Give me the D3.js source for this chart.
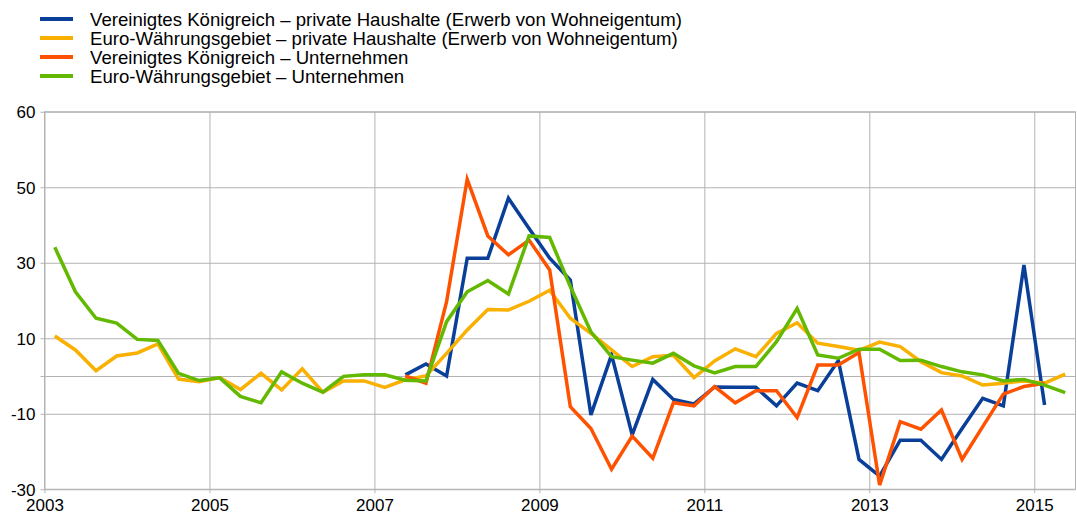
<!DOCTYPE html>
<html>
<head>
<meta charset="utf-8">
<script src="https://cdn.jsdelivr.net/npm/d3@7"></script>
<style>
  body { margin: 0; background: #fff; }
  svg { display: block; font-family: "Liberation Sans", Arial, sans-serif; }
</style>
</head>
<body>
<div id="chart"></div>
<script>
const width = 1077
const height = 518

// quarters 2003Q1 .. 2015Q2
const startYear = 2003
const nQuarters = 50

const seriesNames = [
    "Vereinigtes Königreich – private Haushalte (Erwerb von Wohneigentum)",
    "Euro-Währungsgebiet – private Haushalte (Erwerb von Wohneigentum)",
    "Vereinigtes Königreich – Unternehmen",
    "Euro-Währungsgebiet – Unternehmen"
]
const seriesColors = ["#0a3f99", "#f9b000", "#ff5200", "#63b800"]

// null = no data
const ukHouseholds = [
    null, null, null, null, null, null, null, null, null, null,
    null, null, null, null, null, null, null, 0.3, 3.2, 0,
    31.2, 31.2, 47.1, 39.1, 31.2, 25.4, -10.3, 5.6, -15.6, -0.9,
    -6.2, -7.4, -2.9, -3.0, -3.0, -7.9, -1.9, -3.9, 4.1, -22.1,
    -26.5, -17.0, -17.0, -22.1, -13.9, -5.9, -7.9, 29.4, -7.7, null
]
const euroHouseholds = [
    10.6, 6.9, 1.4, 5.3, 6.1, 8.5, -0.8, -1.5, -0.4, -3.6,
    0.7, -3.7, 1.9, -4.3, -1.3, -1.3, -3.0, -1.0, 0.0, 6.0,
    12.2, 17.6, 17.5, 19.8, 22.7, 15.3, 11.3, 6.9, 2.5, 5.1,
    5.5, -0.4, 4.0, 7.2, 5.1, 11.3, 14.1, 8.7, 7.8, 6.8,
    9.0, 7.8, 3.8, 0.9, 0.0, -2.4, -1.9, -1.3, -1.9, 0.5
]
const ukEnterprises = [
    null, null, null, null, null, null, null, null, null, null,
    null, null, null, null, null, null, null, 0.0, -1.9, 19.7,
    52.1, 37.1, 32.1, 36.0, 28.1, -8.1, -13.9, -24.7, -15.9, -21.8,
    -7.1, -7.9, -2.8, -7.1, -3.9, -3.9, -11.0, 2.9, 2.9, 6.2,
    -28.9, -12.1, -14.1, -9.0, -22.1, -13.4, -4.8, -2.8, -1.9, null
]
const euroEnterprises = [
    34.1, 22.3, 15.3, 14.0, 9.7, 9.4, 0.7, -1.2, -0.5, -5.4,
    -7.1, 1.1, -1.9, -4.3, -0.1, 0.3, 0.3, -1.1, -1.3, 14.4,
    22.3, 25.3, 21.7, 37.1, 36.7, 23.7, 11.7, 5.1, 4.2, 3.4,
    6.0, 2.7, 0.8, 2.5, 2.5, 9.1, 17.9, 5.6, 4.7, 7.1,
    7.1, 4.1, 4.2, 2.5, 1.1, 0.3, -1.3, -0.9, -2.4, -4.4
]
const allSeries = [ukHouseholds, euroHouseholds, ukEnterprises, euroEnterprises]

const xTickValues = [2003, 2005, 2007, 2009, 2011, 2013, 2015]
const yTickValues = [-30, -10, 0, 10, 30, 50, 70]
const yTickLabels = ["-30", "-10", "", "10", "30", "50", "60"]

// mid-quarter positions
const quarterPos = d3.range(nQuarters).map(i => startYear + (i % 4 + 0.5) / 4 + Math.floor(i / 4))

const plot = {left: 44.5, right: 1075.5, top: 111.75, bottom: 489.25}

const x = d3.scaleLinear().domain([2003, 2015.5]).range([plot.left, plot.right])
const y = d3.scaleLinear().domain([-30, 70]).range([plot.bottom, plot.top])

const svg = d3.select("#chart")
    .append("svg")
    .attr("width", width)
    .attr("height", height)

const gridColor = "#b3b3b3"

// horizontal grid + y axis
const yAxis = svg.append("g")
    .attr("transform", "translate(" + plot.left + ",0)")
    .call(d3.axisLeft(y)
        .tickValues(yTickValues)
        .tickSize(-(plot.right - plot.left))
        .tickPadding(8)
        .tickFormat((d, i) => yTickLabels[i]))
yAxis.select(".domain").remove()
yAxis.selectAll(".tick line")
    .attr("stroke", gridColor)
    .attr("x1", -4)
yAxis.selectAll(".tick text")
    .attr("fill", "#000")
    .style("font-size", "17px")
    .attr("x", -9)
    .attr("dy", "0.35em")

// vertical grid + x axis
const xAxis = svg.append("g")
    .attr("transform", "translate(0," + plot.bottom + ")")
    .call(d3.axisBottom(x)
        .tickValues(xTickValues)
        .tickSize(-(plot.bottom - plot.top))
        .tickPadding(6)
        .tickFormat(d3.format("d")))
xAxis.select(".domain").remove()
xAxis.selectAll(".tick line")
    .attr("stroke", gridColor)
    .attr("y1", 4)
xAxis.selectAll(".tick text")
    .attr("fill", "#000")
    .style("font-size", "17px")
    .attr("y", 10)
    .attr("dy", "0.71em")

// frame
svg.append("rect")
    .attr("x", plot.left)
    .attr("y", plot.top)
    .attr("width", plot.right - plot.left)
    .attr("height", plot.bottom - plot.top)
    .attr("fill", "none")
    .attr("stroke", gridColor)

const line = d3.line()
    .defined(d => d[1] !== null)
    .x(d => x(d[0]))
    .y(d => y(d[1]))

allSeries.forEach((values, k) => {
    svg.append("path")
        .attr("d", line(values.map((v, i) => [quarterPos[i], v])))
        .attr("fill", "none")
        .attr("stroke", seriesColors[k])
        .attr("stroke-width", 3.5)
})

// legend
const legend = svg.append("g")
seriesNames.forEach((name, k) => {
    const ly = 19 + k * 19
    legend.append("line")
        .attr("x1", 40)
        .attr("x2", 73)
        .attr("y1", ly)
        .attr("y2", ly)
        .attr("stroke", seriesColors[k])
        .attr("stroke-width", 4)
    legend.append("text")
        .attr("x", 90)
        .attr("y", ly)
        .attr("dy", "0.35em")
        .style("font-size", "18.6px")
        .text(name)
})
</script>
</body>
</html>
